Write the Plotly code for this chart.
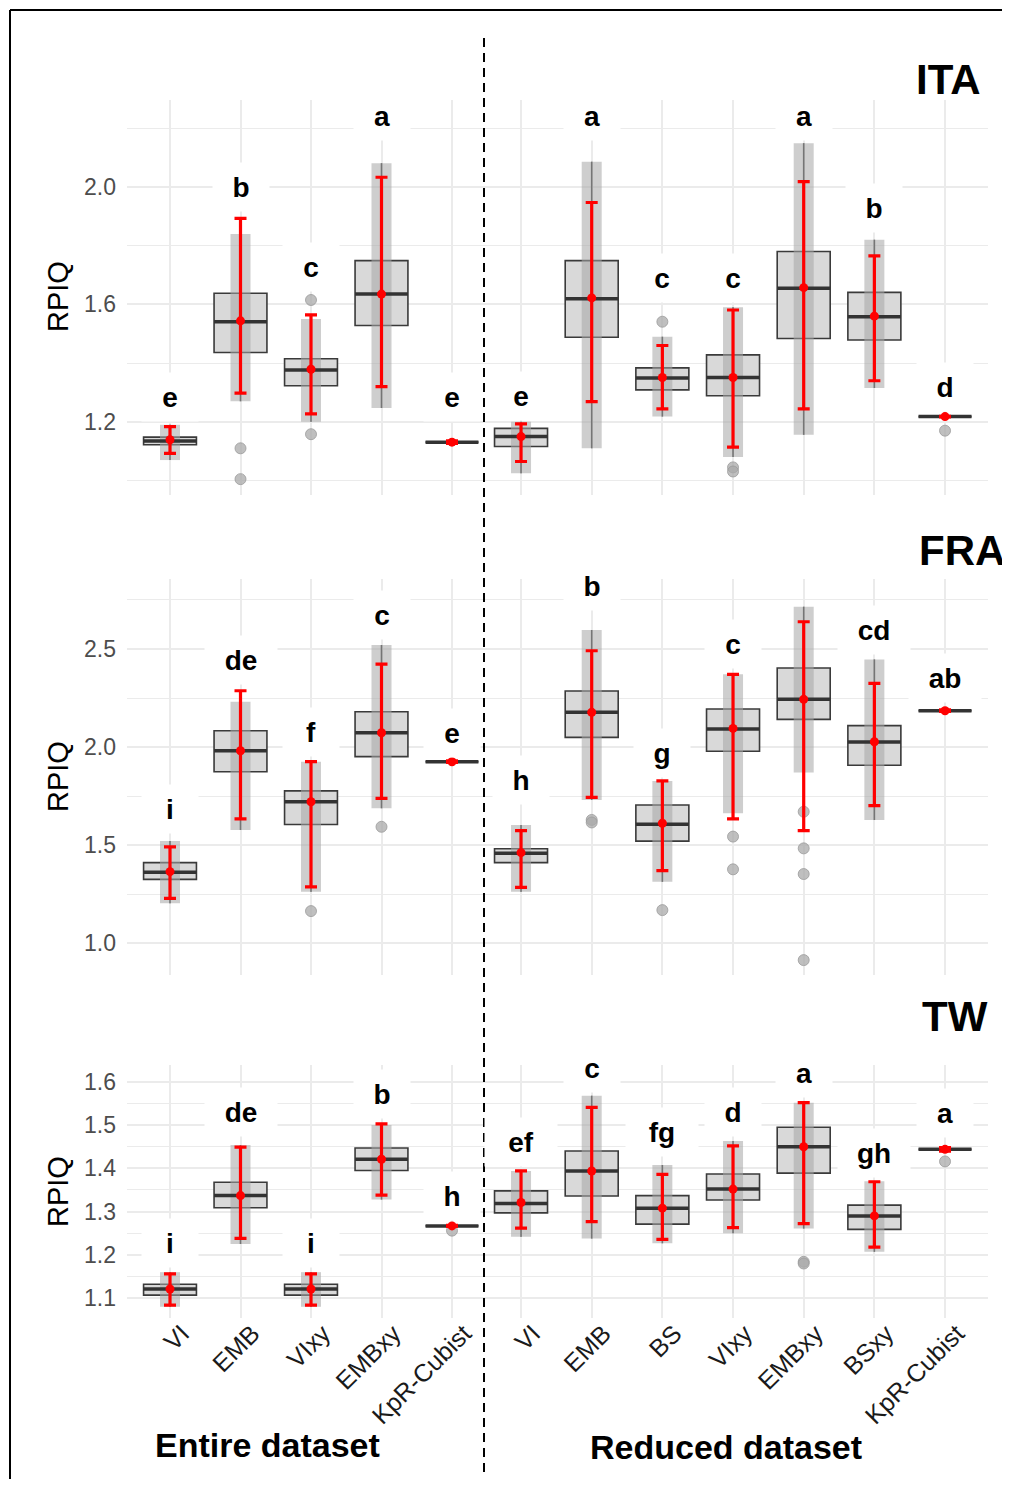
import plotly.graph_objects as go

# page offset (browser body margin) and figure size
OFF = 8
W, H = 1002, 1471

# ---------------- categories ----------------
cats_ent = ["VI", "EMB", "VIxy", "EMBxy", "KpR-Cubist"]
cats_red = ["VI", "EMB", "BS", "VIxy", "EMBxy", "BSxy", "KpR-Cubist"]

# ---------------- ITA, entire dataset ----------------
ita_ent_q1 = [1.122, 1.436, 1.323, 1.528, 1.131]
ita_ent_med = [1.135, 1.541, 1.377, 1.635, 1.131]
ita_ent_q3 = [1.148, 1.638, 1.415, 1.749, 1.131]
ita_ent_lo = [1.070, 1.270, 1.200, 1.247, 1.128]
ita_ent_hi = [1.190, 1.840, 1.550, 2.081, 1.134]
ita_ent_mean = [1.139, 1.544, 1.379, 1.635, 1.131]
ita_ent_elo = [1.093, 1.298, 1.227, 1.320, 1.127]
ita_ent_ehi = [1.184, 1.893, 1.564, 2.033, 1.135]
ita_ent_let = ["e", "b", "c", "a", "e"]
ita_ent_ly = [1.286, 2.000, 1.729, 2.242, 1.286]
ita_ent_out = [[], [1.110, 1.005], [1.158, 1.615], [], []]

# ---------------- ITA, reduced dataset ----------------
ita_red_q1 = [1.116, 1.488, 1.309, 1.289, 1.484, 1.479, 1.218]
ita_red_med = [1.150, 1.619, 1.349, 1.351, 1.655, 1.558, 1.218]
ita_red_q3 = [1.178, 1.749, 1.384, 1.428, 1.780, 1.641, 1.218]
ita_red_lo = [1.025, 1.110, 1.218, 1.080, 1.156, 1.315, 1.216]
ita_red_hi = [1.200, 2.086, 1.490, 1.590, 2.149, 1.820, 1.220]
ita_red_mean = [1.150, 1.622, 1.351, 1.351, 1.657, 1.560, 1.218]
ita_red_elo = [1.065, 1.269, 1.244, 1.114, 1.244, 1.340, 1.217]
ita_red_ehi = [1.193, 1.947, 1.460, 1.581, 2.018, 1.765, 1.219]
ita_red_let = ["e", "a", "c", "c", "a", "b", "d"]
ita_red_ly = [1.289, 2.242, 1.689, 1.689, 2.242, 1.927, 1.320]
ita_red_out = [[], [], [1.541], [1.045, 1.031], [], [], [1.170]]

# ---------------- FRA, entire dataset ----------------
fra_ent_q1 = [1.325, 1.874, 1.605, 1.951, 1.925]
fra_ent_med = [1.361, 1.981, 1.721, 2.073, 1.925]
fra_ent_q3 = [1.410, 2.083, 1.776, 2.180, 1.925]
fra_ent_lo = [1.203, 1.577, 1.262, 1.687, 1.923]
fra_ent_hi = [1.520, 2.231, 1.925, 2.520, 1.927]
fra_ent_mean = [1.364, 1.981, 1.721, 2.073, 1.925]
fra_ent_elo = [1.228, 1.633, 1.287, 1.738, 1.921]
fra_ent_ehi = [1.491, 2.287, 1.925, 2.423, 1.929]
fra_ent_let = ["i", "de", "f", "c", "e"]
fra_ent_ly = [1.682, 2.444, 2.078, 2.673, 2.073]
fra_ent_out = [[], [], [1.163], [1.593], []]

# ---------------- FRA, reduced dataset ----------------
fra_red_q1 = [1.410, 2.049, 1.520, 1.978, 2.141, 1.907, 2.185]
fra_red_med = [1.458, 2.177, 1.606, 2.092, 2.243, 2.026, 2.185]
fra_red_q3 = [1.481, 2.286, 1.704, 2.194, 2.403, 2.109, 2.185]
fra_red_lo = [1.262, 1.730, 1.313, 1.662, 1.870, 1.628, 2.183]
fra_red_hi = [1.602, 2.597, 1.827, 2.371, 2.716, 2.447, 2.187]
fra_red_mean = [1.461, 2.177, 1.611, 2.095, 2.243, 2.027, 2.185]
fra_red_elo = [1.284, 1.743, 1.369, 1.633, 1.573, 1.701, 2.181]
fra_red_ehi = [1.573, 2.491, 1.827, 2.371, 2.639, 2.325, 2.189]
fra_red_let = ["h", "b", "g", "c", "a", "cd", "ab"]
fra_red_ly = [1.832, 2.821, 1.968, 2.524, 2.861, 2.597, 2.350]
fra_red_out = [[], [1.628, 1.615], [1.168], [1.543, 1.376], [1.670, 1.483, 1.352, 0.913], [], []]

# ---------------- TW, entire dataset ----------------
tw_ent_q1 = [1.107, 1.309, 1.107, 1.395, 1.267]
tw_ent_med = [1.121, 1.337, 1.121, 1.421, 1.267]
tw_ent_q3 = [1.132, 1.368, 1.132, 1.447, 1.267]
tw_ent_lo = [1.080, 1.225, 1.080, 1.328, 1.267]
tw_ent_hi = [1.160, 1.454, 1.160, 1.500, 1.267]
tw_ent_mean = [1.121, 1.337, 1.121, 1.421, 1.267]
tw_ent_elo = [1.084, 1.238, 1.084, 1.338, 1.266]
tw_ent_ehi = [1.156, 1.449, 1.156, 1.503, 1.268]
tw_ent_let = ["i", "de", "i", "b", "h"]
tw_ent_ly = [1.227, 1.530, 1.227, 1.572, 1.335]
tw_ent_out = [[], [], [], [], [1.256]]

# ---------------- TW, reduced dataset ----------------
tw_red_q1 = [1.297, 1.336, 1.271, 1.327, 1.389, 1.259, 1.444]
tw_red_med = [1.319, 1.394, 1.308, 1.352, 1.450, 1.290, 1.444]
tw_red_q3 = [1.348, 1.440, 1.337, 1.387, 1.495, 1.315, 1.444]
tw_red_lo = [1.242, 1.238, 1.227, 1.250, 1.261, 1.207, 1.443]
tw_red_hi = [1.394, 1.568, 1.408, 1.463, 1.552, 1.370, 1.445]
tw_red_mean = [1.321, 1.394, 1.308, 1.352, 1.450, 1.290, 1.444]
tw_red_elo = [1.262, 1.277, 1.236, 1.263, 1.272, 1.218, 1.440]
tw_red_ehi = [1.394, 1.541, 1.386, 1.452, 1.552, 1.369, 1.448]
tw_red_let = ["ef", "c", "fg", "d", "a", "gh", "a"]
tw_red_ly = [1.462, 1.632, 1.483, 1.531, 1.620, 1.436, 1.529]
tw_red_out = [[], [], [], [], [1.184, 1.180], [], [1.416]]

# ---------------- axis settings ----------------
row_titles = ["ITA", "FRA", "TW"]
ita_ticks = [1.2, 1.6, 2.0]
fra_ticks = [1.0, 1.5, 2.0, 2.5]
tw_ticks = [1.1, 1.2, 1.3, 1.4, 1.5, 1.6]
ita_minor = [1.0, 1.4, 1.8, 2.2]
fra_minor = [1.25, 1.75, 2.25, 2.75]
tw_minor = [1.15, 1.25, 1.35, 1.45, 1.55]
ita_range = [0.951, 2.296]
fra_range = [0.837, 2.857]
tw_range = [1.054, 1.639]

panels = [
    (0, 0, cats_ent, ita_ent_q1, ita_ent_med, ita_ent_q3, ita_ent_lo, ita_ent_hi, ita_ent_mean, ita_ent_elo, ita_ent_ehi, ita_ent_let, ita_ent_ly, ita_ent_out),
    (0, 1, cats_red, ita_red_q1, ita_red_med, ita_red_q3, ita_red_lo, ita_red_hi, ita_red_mean, ita_red_elo, ita_red_ehi, ita_red_let, ita_red_ly, ita_red_out),
    (1, 0, cats_ent, fra_ent_q1, fra_ent_med, fra_ent_q3, fra_ent_lo, fra_ent_hi, fra_ent_mean, fra_ent_elo, fra_ent_ehi, fra_ent_let, fra_ent_ly, fra_ent_out),
    (1, 1, cats_red, fra_red_q1, fra_red_med, fra_red_q3, fra_red_lo, fra_red_hi, fra_red_mean, fra_red_elo, fra_red_ehi, fra_red_let, fra_red_ly, fra_red_out),
    (2, 0, cats_ent, tw_ent_q1, tw_ent_med, tw_ent_q3, tw_ent_lo, tw_ent_hi, tw_ent_mean, tw_ent_elo, tw_ent_ehi, tw_ent_let, tw_ent_ly, tw_ent_out),
    (2, 1, cats_red, tw_red_q1, tw_red_med, tw_red_q3, tw_red_lo, tw_red_hi, tw_red_mean, tw_red_elo, tw_red_ehi, tw_red_let, tw_red_ly, tw_red_out),
]

row_px = [(100, 495), (579, 975), (1065, 1318)]
col_px = [(127, 484), (484, 988)]
col_xrange = [[-0.61, 4.454], [-0.524, 6.608]]
row_yrange = [ita_range, fra_range, tw_range]
row_ticks = [ita_ticks, fra_ticks, tw_ticks]
row_minor = [ita_minor, fra_minor, tw_minor]

FONT = "Liberation Sans, Arial, sans-serif"
GRID = "#EBEBEB"
BOXW = 0.75


def px_x(p):
    return (p - OFF) / W


def px_y(p):
    return 1 - (p - OFF) / H


fig = go.Figure()
layout = {}
annotations = []

for (r, c, cats, q1, med, q3, lo, hi, mean, elo, ehi, lets, ly, out) in panels:
    k = r * 2 + c + 1
    xa = "x" if k == 1 else f"x{k}"
    ya = "y" if k == 1 else f"y{k}"
    xs = list(range(len(cats)))

    # box
    fig.add_trace(go.Box(
        x=xs, q1=q1, median=med, q3=q3, lowerfence=lo, upperfence=hi,
        width=BOXW, whiskerwidth=0, boxpoints=False,
        fillcolor="#D9D9D9", line=dict(color="#3A3A3A", width=1.6),
        xaxis=xa, yaxis=ya, showlegend=False, hoverinfo="skip"))

    # strip standing for the jittered points (between whisker ends)
    for i in xs:
        fig.add_trace(go.Scatter(
            x=[i, i], y=[lo[i], hi[i]], mode="lines",
            line=dict(color="rgba(165,165,165,0.55)", width=20),
            xaxis=xa, yaxis=ya, showlegend=False, hoverinfo="skip"))

    # outlying points
    ox, oy = [], []
    for i in xs:
        for v in out[i]:
            ox.append(i)
            oy.append(v)
    if ox:
        fig.add_trace(go.Scatter(
            x=ox, y=oy, mode="markers",
            marker=dict(color="rgba(170,170,170,0.75)", size=11,
                        line=dict(color="rgba(155,155,155,0.8)", width=1)),
            xaxis=xa, yaxis=ya, showlegend=False, hoverinfo="skip"))

    # thick median line (line-ew symbol spans 1.4 x size)
    xr = col_xrange[c]
    wpx = (col_px[c][1] - col_px[c][0]) / (xr[1] - xr[0]) * BOXW
    fig.add_trace(go.Scatter(
        x=xs, y=med, mode="markers",
        marker=dict(symbol="line-ew", size=wpx / 1.4, color="#333333",
                    line=dict(color="#333333", width=3.5)),
        xaxis=xa, yaxis=ya, showlegend=False, hoverinfo="skip"))

    # mean +/- error (red)
    fig.add_trace(go.Scatter(
        x=xs, y=mean, mode="markers",
        marker=dict(color="#FF0000", size=9),
        error_y=dict(type="data", symmetric=False,
                     array=[h - m for h, m in zip(ehi, mean)],
                     arrayminus=[m - l for m, l in zip(mean, elo)],
                     color="#FF0000", thickness=3.2, width=6),
        xaxis=xa, yaxis=ya, showlegend=False, hoverinfo="skip"))

    # letters
    for i in xs:
        annotations.append(dict(
            x=i, y=ly[i], xref=xa, yref=ya, text=f"<b>{lets[i]}</b>",
            xanchor="center", yanchor="middle",
            showarrow=False, bgcolor="white",
            width=40 + 16 * len(lets[i]), height=48, borderpad=0,
            font=dict(family=FONT, size=28, color="black")))

    x_key = "xaxis" if k == 1 else f"xaxis{k}"
    y_key = "yaxis" if k == 1 else f"yaxis{k}"
    layout[x_key] = dict(
        domain=[px_x(col_px[c][0]), px_x(col_px[c][1])],
        anchor=ya, range=xr, tickmode="array", tickvals=xs, ticktext=cats,
        showticklabels=(r == 2), tickangle=-45,
        tickfont=dict(family=FONT, size=25, color="#1A1A1A"),
        showgrid=True, gridcolor=GRID, gridwidth=1.8,
        zeroline=False, showline=False, ticks="", ticklabelstandoff=-5,
        ticklabelshift=12, automargin=False)
    layout[y_key] = dict(
        domain=[px_y(row_px[r][1]), px_y(row_px[r][0])],
        anchor=xa, range=row_yrange[r], tickmode="array",
        tickvals=row_ticks[r], ticktext=[f"{v:.1f}" for v in row_ticks[r]],
        showticklabels=(c == 0),
        tickfont=dict(family=FONT, size=23, color="#4D4D4D"),
        showgrid=True, gridcolor=GRID, gridwidth=1.8,
        minor=dict(tickmode="array", tickvals=row_minor[r], showgrid=True,
                   gridcolor=GRID, gridwidth=1.4),
        zeroline=False, showline=False, ticks="", ticklabelstandoff=10,
        automargin=False)

# row titles and axis titles
title_pos = [(948, 79), (962, 550), (955, 1016)]
rpiq_y = [297, 777, 1192]
for r in range(3):
    annotations.append(dict(
        x=px_x(title_pos[r][0]), y=px_y(title_pos[r][1]), xref="paper", yref="paper",
        xanchor="center", yanchor="middle",
        text=f"<b>{row_titles[r]}</b>", showarrow=False,
        font=dict(family=FONT, size=42, color="black")))
    annotations.append(dict(
        x=px_x(58), y=px_y(rpiq_y[r]), xref="paper", yref="paper",
        xanchor="center", yanchor="middle",
        text="RPIQ", textangle=-90, showarrow=False,
        font=dict(family=FONT, size=29, color="black")))

annotations.append(dict(
    x=px_x(267), y=px_y(1445), xref="paper", yref="paper",
    xanchor="center", yanchor="middle",
    text="<b>Entire dataset</b>", showarrow=False,
    font=dict(family=FONT, size=34, color="black")))
annotations.append(dict(
    x=px_x(726), y=px_y(1447), xref="paper", yref="paper",
    xanchor="center", yanchor="middle",
    text="<b>Reduced dataset</b>", showarrow=False,
    font=dict(family=FONT, size=34, color="black")))

shapes = [
    dict(type="line", xref="paper", yref="paper",
         x0=px_x(484), x1=px_x(484), y0=px_y(38), y1=px_y(1478),
         line=dict(color="black", width=2, dash="9px,6px"), layer="above"),
    dict(type="line", xref="paper", yref="paper",
         x0=px_x(10), x1=1.0, y0=px_y(10), y1=px_y(10),
         line=dict(color="black", width=2)),
    dict(type="line", xref="paper", yref="paper",
         x0=px_x(10), x1=px_x(10), y0=px_y(10), y1=0.0,
         line=dict(color="black", width=2)),
]

fig.update_layout(
    width=W, height=H, margin=dict(l=0, r=0, t=0, b=0),
    paper_bgcolor="white", plot_bgcolor="white",
    boxmode="overlay", annotations=annotations, shapes=shapes,
    font=dict(family=FONT), **layout)

fig.write_html("out.html")
